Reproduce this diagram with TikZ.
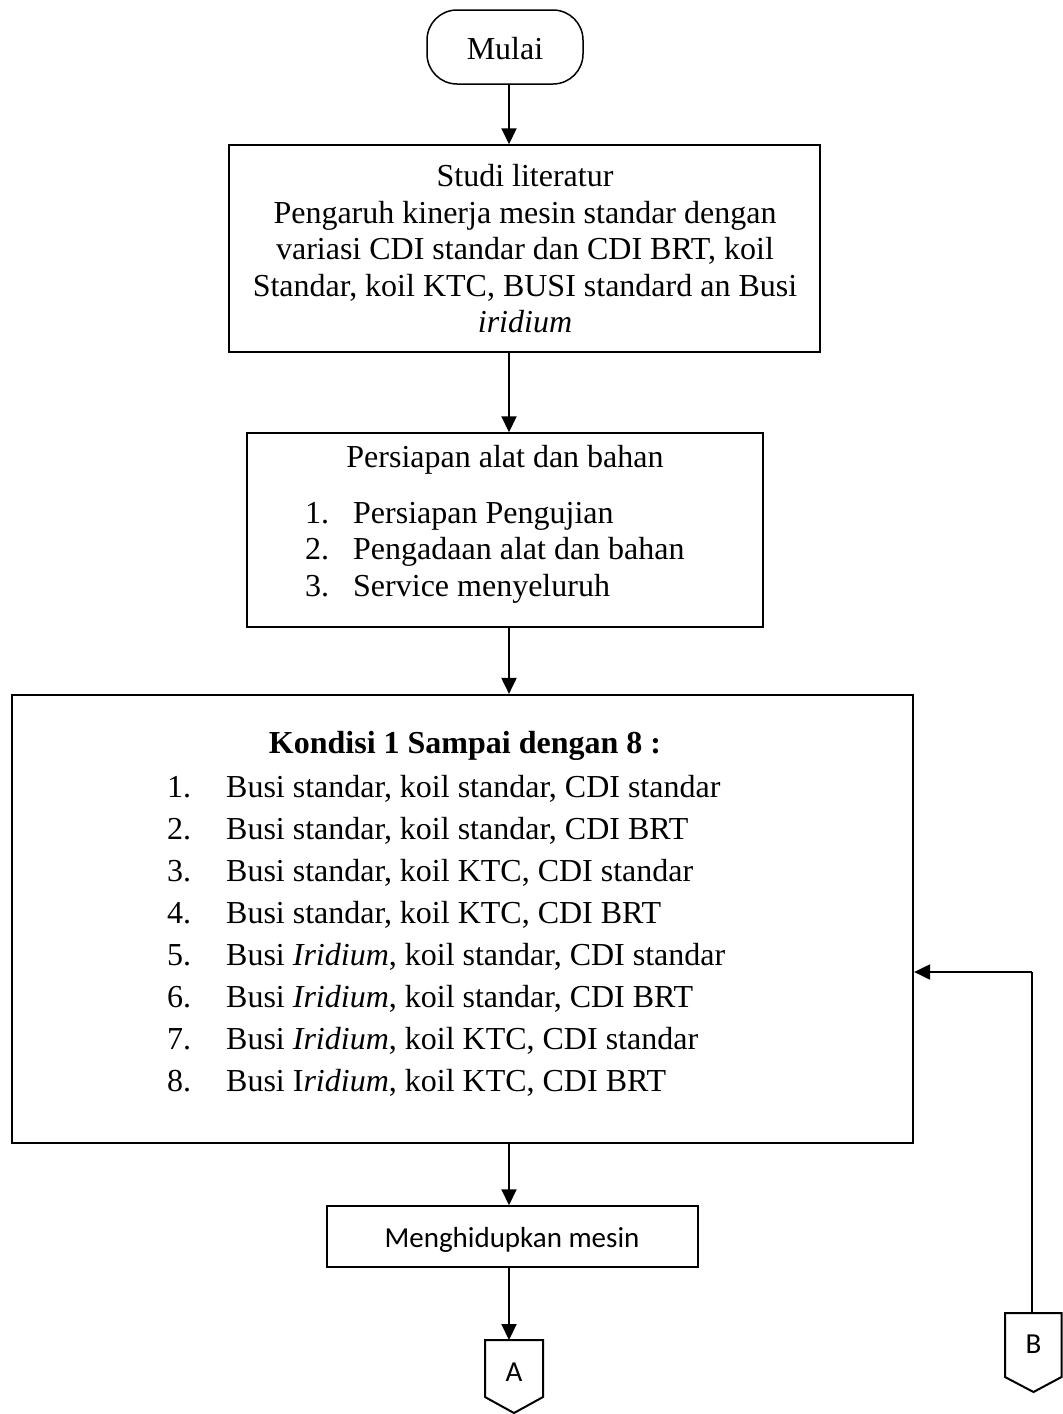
\documentclass[tikz,border=0pt]{standalone}
\usepackage{fontspec}
\setmainfont{Liberation Serif}
\newfontfamily\calfont{Carlito}
\usetikzlibrary{arrows.meta,calc}
\begin{document}
\begin{tikzpicture}[x=1pt,y=-1pt,
  txt/.style={inner sep=0pt,font=\fontsize{32}{36}\selectfont},
  sanstxt/.style={inner sep=0pt,font=\calfont\fontsize{29}{34}\selectfont},
  box/.style={draw,line width=1.5pt,inner sep=0pt},
  arr/.style={line width=2pt,-{Triangle[length=16pt,width=15pt]}},
  conn/.style={draw,line width=2pt,line join=miter}]
\useasboundingbox (0,0) rectangle (1063,1414);
\coordinate (spine) at (509,0);

% start terminal
\node[box,rounded corners=30pt,minimum width=156pt,minimum height=74pt] (mulai) at (505,47) {};
\node[txt,anchor=base] (mulaitxt) at (505,59) {Mulai};

% literature study
\node[box,minimum width=591pt,minimum height=207pt] (box1) at (524.5,248.5) {};
\node[txt,anchor=base] (s1) at (525,186) {Studi literatur};
\node[txt,anchor=base] (s2) at (525,223) {Pengaruh kinerja mesin standar dengan};
\node[txt,anchor=base] (s3) at (525,259) {variasi CDI standar dan CDI BRT, koil};
\node[txt,anchor=base] (s4) at (525,296) {Standar, koil KTC, BUSI standard an Busi};
\node[txt,anchor=base] (s5) at (525,332) {\itshape iridium};

% preparation
\node[box,minimum width=516pt,minimum height=194pt] (box2) at (505,530) {};
\node[txt,anchor=base] (p0) at (505,467) {Persiapan alat dan bahan};
\node[txt,anchor=base west] (pn1) at (305,523) {1.};
\node[txt,anchor=base west] (p1) at (353,523) {Persiapan Pengujian};
\node[txt,anchor=base west] (pn2) at (305,559) {2.};
\node[txt,anchor=base west] (p2) at (353,559) {Pengadaan alat dan bahan};
\node[txt,anchor=base west] (pn3) at (305,596) {3.};
\node[txt,anchor=base west] (p3) at (353,596) {Service menyeluruh};

% test conditions
\node[box,line width=2.2pt,minimum width=901pt,minimum height=448pt] (box3) at (462.5,919) {};
\node[txt,anchor=base,font=\fontsize{32}{36}\selectfont\bfseries] (k0) at (465,753) {Kondisi 1 Sampai dengan 8 :};
\foreach \i/\t [evaluate=\i as \yy using 797+42*(\i-1)] in {
  1/{Busi standar, koil standar, CDI standar},
  2/{Busi standar, koil standar, CDI BRT},
  3/{Busi standar, koil KTC, CDI standar},
  4/{Busi standar, koil KTC, CDI BRT},
  5/{Busi \textit{Iridium}, koil standar, CDI standar},
  6/{Busi \textit{Iridium}, koil standar, CDI BRT},
  7/{Busi \textit{Iridium}, koil KTC, CDI standar},
  8/{Busi I\textit{ridium}, koil KTC, CDI BRT}}{
  \node[txt,anchor=base west] (kn\i) at (167,\yy) {\i.};
  \node[txt,anchor=base west] (k\i) at (226,\yy) {\t};
}

% engine start
\node[box,minimum width=371pt,minimum height=61pt] (box4) at (512.5,1236.5) {};
\node[sanstxt,anchor=base] (m1) at (512,1247) {Menghidupkan mesin};

% off-page connectors
\node[sanstxt] (A) at (514,1372) {A};
\draw[conn] ([shift={(-29,-32)}]A.center) -- ([shift={(29,-32)}]A.center)
  -- ([shift={(29,25)}]A.center) -- ([shift={(0,41)}]A.center)
  -- ([shift={(-29,25)}]A.center) -- cycle;
\coordinate (Atop) at ([yshift=32pt]A.center);

\node[sanstxt] (B) at (1033.5,1344) {B};
\draw[conn] ([shift={(-28.5,-31)}]B.center) -- ([shift={(28,-31)}]B.center)
  -- ([shift={(28,33)}]B.center) -- ([shift={(0,48)}]B.center)
  -- ([shift={(-28.5,33)}]B.center) -- cycle;
\coordinate (Btop) at (1032,1313);
\coordinate (Bturn) at (1032,972);

% flow connectors
\draw[arr] (mulai.south -| spine) -- (box1.north -| spine);
\draw[arr] (box1.south -| spine) -- (box2.north -| spine);
\draw[arr] (box2.south -| spine) -- (box3.north -| spine);
\draw[arr] (box3.south -| spine) -- (box4.north -| spine);
\draw[arr] (box4.south -| spine) -- (Atop -| spine);
\draw[line width=1.5pt] (Btop) -- (Bturn);
\draw[arr] (Bturn) -- (Bturn -| box3.east);
\end{tikzpicture}
\end{document}
